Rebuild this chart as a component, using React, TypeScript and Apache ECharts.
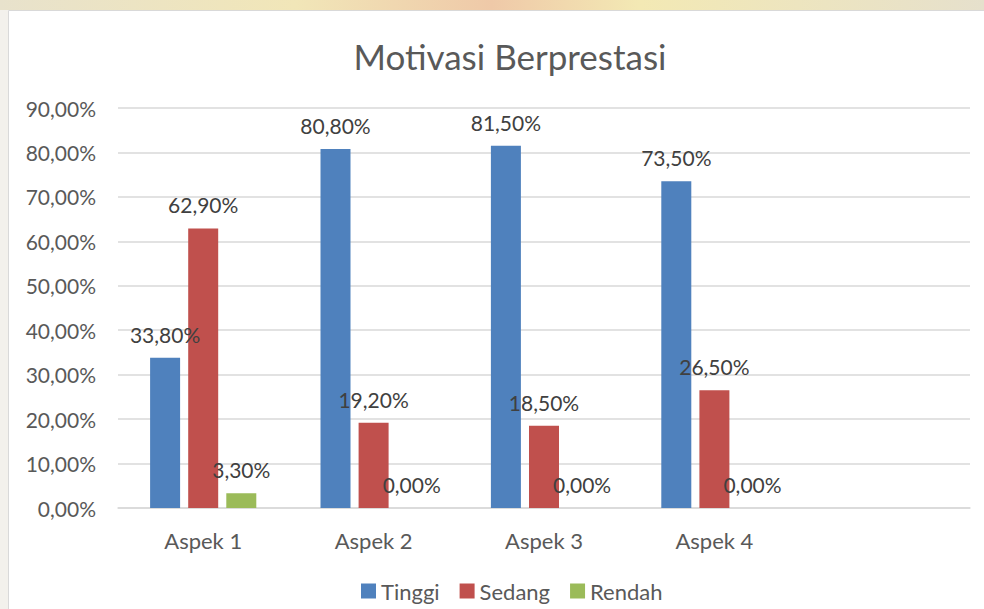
import React, { useEffect, useRef } from "react";
import * as echarts from "echarts";

const categories = ["Aspek 1", "Aspek 2", "Aspek 3", "Aspek 4", ""];
const tinggi = [33.8, 80.8, 81.5, 73.5, null];
const sedang = [62.9, 19.2, 18.5, 26.5, null];
const rendah = [3.3, 0, 0, 0, null];
const yTicks = { min: 0, max: 90, interval: 10 };

const FONT = "Lato, 'Open Sans', sans-serif";
const fmt = (v: number) => v.toFixed(2).replace(".", ",") + "%";

export default function App() {
  const ref = useRef<HTMLDivElement>(null);
  useEffect(() => {
    if (!ref.current) return;
    const chart = echarts.init(ref.current, undefined, { renderer: "svg" });
    const label = {
      show: true,
      position: "top" as const,
      distance: 13,
      color: "#404040",
      fontSize: 21,
      fontFamily: FONT,
      formatter: (p: any) => fmt(p.value),
    };
    const mk = (name: string, data: (number | null)[], color: string) => ({
      name,
      type: "bar",
      data,
      barWidth: 30,
      barGap: "27%",
      itemStyle: { color },
      label,
    });
    chart.setOption({
      animation: false,
      backgroundColor: "#ffffff",
      graphic: [
        {
          type: "rect",
          shape: { x: 0, y: 0, width: 984, height: 10 },
          style: {
            fill: new echarts.graphic.LinearGradient(0, 0, 1, 0, [
              { offset: 0, color: "#e8e2cc" },
              { offset: 0.3, color: "#f1e6b8" },
              { offset: 0.5, color: "#efc9a8" },
              { offset: 0.65, color: "#f3e9b4" },
              { offset: 1, color: "#e6e0cc" },
            ]),
          },
          silent: true,
          z: -10,
        },
        {
          type: "rect",
          shape: { x: 0, y: 10, width: 8, height: 599 },
          style: { fill: "#f3f1ec" },
          silent: true,
          z: -10,
        },
        {
          type: "rect",
          shape: { x: 8.5, y: 10.5, width: 990, height: 610 },
          style: { fill: "#ffffff", stroke: "#d9d9d9", lineWidth: 1 },
          silent: true,
          z: -9,
        },
      ],
      title: {
        text: "Motivasi Berprestasi",
        left: 505,
        textAlign: "center",
        top: 33,
        textStyle: { color: "#595959", fontSize: 35, fontWeight: "normal", fontFamily: FONT },
      },
      legend: {
        bottom: 2,
        left: 356,
        itemWidth: 15,
        itemHeight: 15,
        itemGap: 20,
        icon: "rect",
        textStyle: { color: "#595959", fontSize: 22, fontFamily: FONT },
        data: ["Tinggi", "Sedang", "Rendah"],
      },
      grid: { left: 118, right: 14, top: 108, bottom: 101, containLabel: false },
      xAxis: {
        type: "category",
        data: categories,
        axisLine: { lineStyle: { color: "#d9d9d9", width: 1.5 } },
        axisTick: { show: false },
        axisLabel: { color: "#595959", fontSize: 22, fontFamily: FONT, margin: 21 },
      },
      yAxis: {
        type: "value",
        min: yTicks.min,
        max: yTicks.max,
        interval: yTicks.interval,
        axisLine: { show: false },
        axisTick: { show: false },
        splitLine: { lineStyle: { color: "#d9d9d9", width: 1.5 } },
        axisLabel: {
          color: "#595959",
          fontSize: 21,
          fontFamily: FONT,
          margin: 22,
          formatter: (v: number) => fmt(v),
        },
      },
      series: [
        mk("Tinggi", tinggi, "#4f81bd"),
        mk("Sedang", sedang, "#c0504d"),
        mk("Rendah", rendah, "#9bbb59"),
      ],
    });
    return () => chart.dispose();
  }, []);
  return (
    <div
      ref={ref}
      style={{ position: "fixed", left: 0, top: 0, width: 984, height: 609 }}
    />
  );
}
